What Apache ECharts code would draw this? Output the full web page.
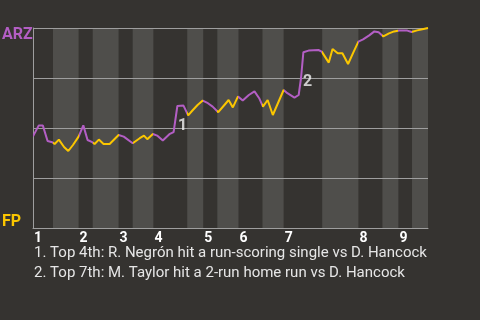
<!DOCTYPE html>
<html><head><meta charset="utf-8">
<script src="https://cdn.jsdelivr.net/npm/echarts@6/dist/echarts.min.js"></script>
<style>html,body{margin:0;padding:0;background:#353330;}#c{width:480px;height:320px;}</style>
</head><body><div id="c"></div>
<script>
// Half-inning start positions (event index), top halves at even positions
const halfInningStarts = [0, 4.25, 9.7, 12.7, 18.2, 21.2, 25.6, 32.8, 36.2, 39.2, 43.7, 48.8, 53.3, 61.5, 69.2, 74.3, 77.7, 80.6];
const gameEnd = 84;
const inningLabels = ['1','2','3','4','5','6','7','8','9'];
// Event positions and ARZ win probability (%)
const eventX = [0, 1.2, 2.1, 3.1, 4.1, 4.6, 5.5, 6.6, 7.5, 8.5, 9.7, 10.7, 11.6, 12.6, 13.1, 14.0, 15.0, 16.3, 18.2, 19.3,
  21.2, 22.7, 23.6, 24.3, 25.5, 26.4, 27.6, 29.0, 29.9, 30.7, 32.0, 33.0, 34.0, 35.0, 36.1, 37.2, 38.2, 39.4, 40.7, 41.6,
  42.5, 43.6, 44.6, 45.9, 47.1, 48.1, 48.9, 49.9, 51.0, 53.3, 54.1, 55.6, 56.5, 57.0, 57.5, 58.6, 60.7, 61.4, 62.9, 63.7,
  64.8, 65.8, 67.0, 68.2, 69.2, 70.2, 71.5, 72.6, 73.5, 74.5, 75.7, 76.8, 77.9, 79.6, 80.5, 81.7, 82.8, 84.0];
const winProbARZ = [45.8, 51.2, 51.2, 43.5, 42.9, 42.0, 44.2, 40.5, 38.5, 41.5, 45.7, 51.3, 44.0, 42.9, 42.0, 44.2, 42.0, 42.0, 46.5, 45.7,
  42.4, 44.9, 46.2, 44.4, 47.0, 46.2, 43.8, 46.9, 47.9, 61.0, 61.2, 56.3, 59.0, 61.5, 63.7, 62.4, 60.7, 57.9, 61.5, 64.0,
  60.3, 65.8, 63.7, 66.5, 68.3, 64.9, 60.7, 64.0, 56.5, 69.0, 67.4, 65.2, 66.5, 75.0, 87.9, 88.7, 89.0, 88.2, 82.7, 89.5,
  87.4, 87.4, 82.0, 88.2, 93.2, 94.3, 96.3, 98.3, 97.9, 95.8, 97.3, 98.3, 98.7, 98.7, 98.0, 98.8, 99.4, 100.0];
const annotationLabels = ['1', '2'];
const annotationX = [31.8, 58.4];
const annotationY = [50.8, 73.0];
const notes = ['1. Top 4th: R. Negrón hit a run-scoring single vs D. Hancock',
               '2. Top 7th: M. Taylor hit a 2-run home run vs D. Hancock'];
const teamTop = 'ARZ', teamBottom = 'FP';

const PURPLE = '#b35ec4', YELLOW = '#fbc600', BAND = '#4f4e4b', GRID = '#9e9e9e';

const inningStarts = halfInningStarts.filter((_, i) => i % 2 === 0);
const bottomHalves = [];
const pieces = [];
halfInningStarts.forEach((s, i) => {
  const e = i + 1 < halfInningStarts.length ? halfInningStarts[i + 1] : gameEnd;
  if (i % 2 === 1) bottomHalves.push([s, e]);
  const p = { gte: s, color: i % 2 === 0 ? PURPLE : YELLOW };
  if (i + 1 < halfInningStarts.length) p.lt = e; else p.lte = e + 1;
  pieces.push(p);
});

const chart = echarts.init(document.getElementById('c'));
chart.setOption({
  backgroundColor: '#353330',
  animation: false,
  grid: { left: 33, right: 52, top: 28, bottom: 92 },
  xAxis: {
    type: 'value', min: 0, max: gameEnd,
    splitLine: { show: false },
    axisTick: { show: false },
    axisLine: { show: true, onZero: false, lineStyle: { color: GRID, width: 1 } },
    axisLabel: {
      customValues: inningStarts,
      formatter: v => {
        let best = 0;
        inningStarts.forEach((s, i) => { if (Math.abs(s - v) < Math.abs(inningStarts[best] - v)) best = i; });
        return inningLabels[best];
      },
      align: 'left', margin: 3, padding: [0, 0, 0, 1],
      color: '#ffffff', fontFamily: 'Roboto', fontWeight: 'bold', fontSize: 14
    }
  },
  yAxis: {
    type: 'value', min: 0, max: 100, interval: 25,
    axisLabel: { show: false }, axisTick: { show: false },
    axisLine: { show: true, lineStyle: { color: GRID, width: 1 } },
    splitLine: { show: true, lineStyle: { color: GRID, width: 1 } }
  },
  visualMap: { type: 'piecewise', show: false, dimension: 0, seriesIndex: 1, pieces: pieces },
  series: [
    {
      type: 'custom', z: -1, silent: true,
      data: bottomHalves,
      encode: { x: [0, 1] },
      renderItem: (params, api) => {
        const a = api.coord([api.value(0), 100]);
        const b = api.coord([api.value(1), 0]);
        return { type: 'rect', shape: { x: a[0], y: a[1], width: b[0] - a[0], height: b[1] - a[1] }, style: { fill: BAND } };
      }
    },
    {
      type: 'line', z: 3,
      data: eventX.map((x, i) => [x, winProbARZ[i]]),
      showSymbol: false, symbol: 'none',
      lineStyle: { width: 2 }
    },
    {
      type: 'scatter', z: 4, symbolSize: 0, silent: true,
      itemStyle: { color: 'transparent' },
      data: annotationLabels.map((t, i) => [annotationX[i], annotationY[i], t]),
      label: { show: true, position: 'inside', formatter: p => p.data[2], color: '#f2f2f2',
        fontFamily: 'Roboto', fontWeight: 'bold', fontSize: 16 }
    }
  ],
  graphic: [
    { type: 'text', left: 2, top: 27, style: { text: teamTop, fill: PURPLE, font: 'bold 16px Roboto' } },
    { type: 'text', left: 2, top: 214, style: { text: teamBottom, fill: YELLOW, font: 'bold 16px Roboto' } },
    { type: 'text', left: 34, top: 246, style: { text: notes[0], fill: '#e6e6e6', font: '15px Roboto' } },
    { type: 'text', left: 34, top: 266, style: { text: notes[1], fill: '#e6e6e6', font: '15px Roboto' } }
  ]
});
</script></body></html>
